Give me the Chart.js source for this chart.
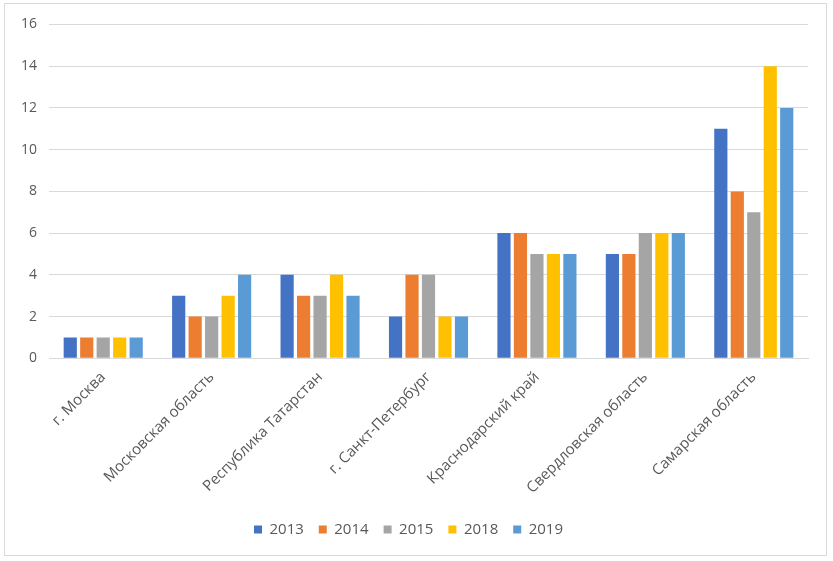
<!DOCTYPE html>
<html><head><meta charset="utf-8">
<script src="https://cdn.jsdelivr.net/npm/chart.js@4/dist/chart.umd.min.js"></script>
<style>
html,body{margin:0;padding:0;background:#fff;}
#wrap{position:absolute;left:4px;top:3px;width:823px;height:553px;border:1px solid #d9d9d9;box-sizing:border-box;}
canvas{display:block;}
</style></head><body>
<div id="wrap"><canvas id="c"></canvas></div>
<script>
const categories = ["г. Москва","Московская область","Республика Татарстан","г. Санкт-Петербург","Краснодарский край","Свердловская область","Самарская область"];
const seriesNames = ["2013","2014","2015","2018","2019"];
const v2013 = [1,3,4,2,6,5,11];
const v2014 = [1,2,3,4,6,5,8];
const v2015 = [1,2,3,4,5,6,7];
const v2018 = [1,3,4,2,5,6,14];
const v2019 = [1,4,3,2,5,6,12];
const yTicks = [0,2,4,6,8,10,12,14,16];
const colors = ["#4472C4","#ED7D31","#A5A5A5","#FFC000","#5B9BD5"];
const values = [v2013,v2014,v2015,v2018,v2019];

const ctx = document.getElementById('c');
new Chart(ctx,{
  type:'bar',
  data:{labels:categories,datasets:seriesNames.map((n,i)=>({label:n,data:values[i],backgroundColor:colors[i],borderWidth:0,categoryPercentage:0.76,barPercentage:0.8}))},
  options:{
    responsive:true,maintainAspectRatio:false,animation:false,
    layout:{padding:{left:4,right:18,top:14,bottom:8}},
    plugins:{
      legend:{position:'bottom',labels:{boxWidth:8,boxHeight:8,color:'#595959',font:{family:'Open Sans',size:15},padding:15}},
      tooltip:{enabled:false}
    },
    scales:{
      x:{grid:{display:false,drawTicks:false},border:{color:'#d9d9d9'},
         ticks:{color:'#595959',font:{family:'Open Sans',size:15},minRotation:45,maxRotation:45,padding:10}},
      y:{min:0,max:16,afterBuildTicks:(s)=>{s.ticks=yTicks.map(v=>({value:v}));},
         grid:{color:'#d9d9d9',drawTicks:false},border:{display:false},
         ticks:{color:'#595959',font:{family:'Open Sans',size:14},padding:12}}
    }
  }
});
</script></body></html>
